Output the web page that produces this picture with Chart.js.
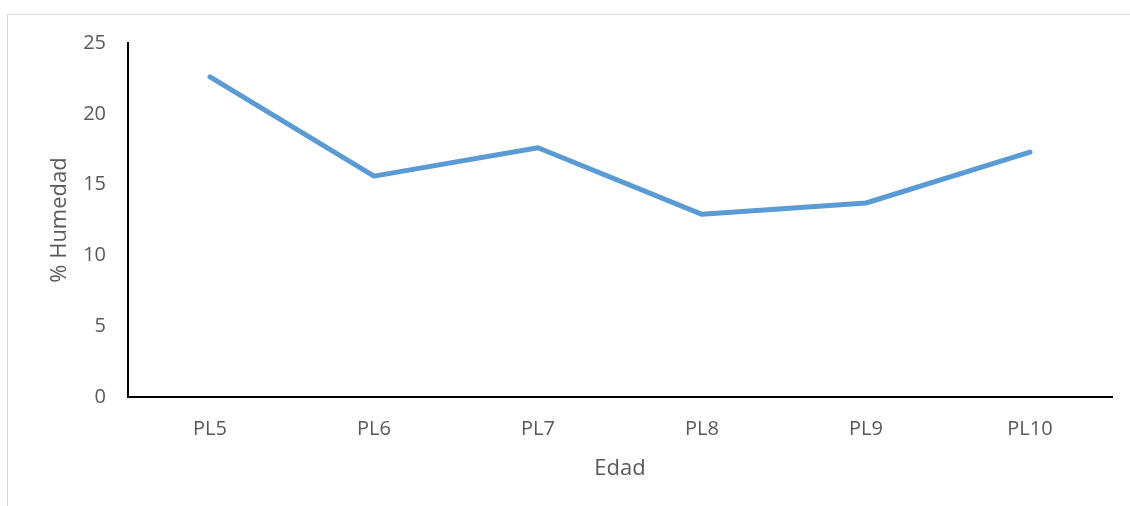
<!DOCTYPE html>
<html>
<head>
<meta charset="utf-8">
<script src="https://cdn.jsdelivr.net/npm/chart.js@4/dist/chart.umd.min.js"></script>
<style>
  html, body { margin: 0; padding: 0; background: #fff; }
  #wrap { position: relative; width: 1130px; height: 506px; }
</style>
</head>
<body>
<div id="wrap"><canvas id="c" width="1130" height="506"></canvas></div>
<script>
// Moisture content by larval age
const categories = ['PL5', 'PL6', 'PL7', 'PL8', 'PL9', 'PL10'];
const humedad = [22.6, 15.6, 17.6, 12.9, 13.7, 17.3];
const yTicks = [0, 5, 10, 15, 20, 25];

const FONT = "'Open Sans', 'Liberation Sans', sans-serif";
const TEXT = '#595959';

// Thin grey frame around the chart
const framePlugin = {
  id: 'frame',
  beforeDraw(chart) {
    const ctx = chart.ctx;
    ctx.save();
    ctx.strokeStyle = '#d9d9d9';
    ctx.lineWidth = 1;
    ctx.strokeRect(7.5, 14.5, 1200, 600);
    ctx.restore();
  }
};

new Chart(document.getElementById('c'), {
  type: 'line',
  data: {
    labels: categories,
    datasets: [{
      data: humedad,
      borderColor: '#5B9BD5',
      borderWidth: 5,
      borderCapStyle: 'round',
      borderJoinStyle: 'round',
      pointRadius: 0,
      tension: 0,
      fill: false
    }]
  },
  plugins: [framePlugin],
  options: {
    responsive: false,
    animation: false,
    layout: { padding: { left: 0, top: 43, right: 18, bottom: 0 } },
    plugins: { legend: { display: false }, tooltip: { enabled: false } },
    scales: {
      x: {
        offset: true,
        grid: { display: false, drawTicks: false },
        border: { display: true, color: '#000', width: 2 },
        ticks: { color: TEXT, font: { family: FONT, size: 20 }, padding: 20 },
        title: {
          display: true, text: 'Edad', color: TEXT,
          font: { family: FONT, size: 22 }, padding: { top: 0, bottom: 24 }
        },
        afterFit(s) { s.height = 109; }
      },
      y: {
        min: 0, max: 25,
        afterBuildTicks(s) { s.ticks = yTicks.map(v => ({ value: v })); },
        grid: { display: false, drawTicks: false },
        border: { display: true, color: '#000', width: 2 },
        ticks: { color: TEXT, font: { family: FONT, size: 20 }, padding: 22 },
        title: {
          display: true, text: '% Humedad', color: TEXT,
          font: { family: FONT, size: 22 }, padding: { top: 47, bottom: 0 }
        },
        afterFit(s) { s.width = 128; }
      }
    }
  }
});
</script>
</body>
</html>
